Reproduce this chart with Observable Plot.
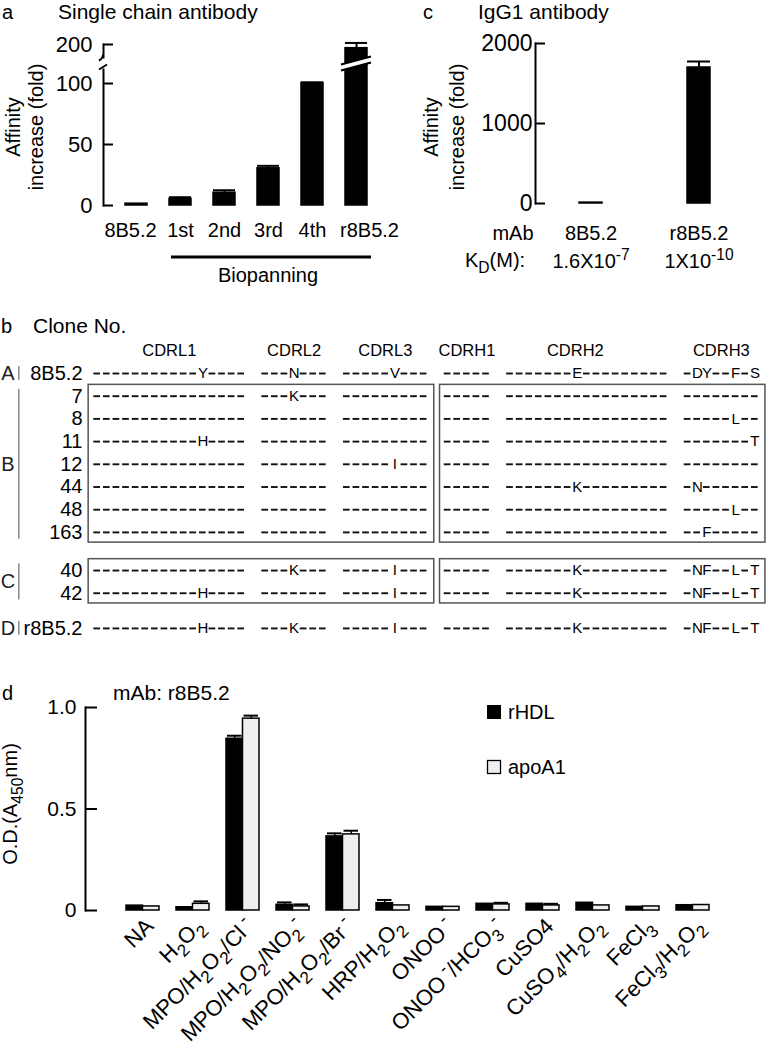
<!DOCTYPE html>
<html><head><meta charset="utf-8">
<script src="https://cdn.jsdelivr.net/npm/d3@7"></script>
<script src="https://cdn.jsdelivr.net/npm/@observablehq/plot@0.6"></script>
<style>
body{margin:0;background:#fff;}
#fig{position:relative;width:767px;height:1050px;overflow:hidden;background:#fff;font-family:"Liberation Sans",Arial,Helvetica,sans-serif;}
#fig > svg{position:absolute;overflow:visible;}
</style></head><body><div id="fig"></div>
<script>
const FONT = '"Liberation Sans", Arial, Helvetica, sans-serif';

// ---------- Panel a: single chain antibody ----------
const scfvClones = ["8B5.2", "1st", "2nd", "3rd", "4th", "r8B5.2"];
const scfvFold = [1, 5, 10, 30, 100, 189];
const scfvErr = [0, 1.8, 2.5, 2.5, 2.8, 15];
const scfvTicks = [0, 50, 100, 200];

// ---------- Panel c: IgG1 antibody ----------
const iggClones = ["8B5.2", "r8B5.2"];
const iggFold = [1, 1690];
const iggErr = [0, 85];
const iggKd = ["1.6X10^{-7}", "1X10^{-10}"];
const iggTicks = [0, 1000, 2000];

// ---------- Panel b: CDR sequences ----------
const rowNames = ["8B5.2", "7", "8", "11", "12", "44", "48", "163", "40", "42", "r8B5.2"];
const rowGroups = ["A", "B", "B", "B", "B", "B", "B", "B", "C", "C", "D"];
const cdrNames = ["CDRL1", "CDRL2", "CDRL3", "CDRH1", "CDRH2", "CDRH3"];
const seqCDRL1 = ["-----------Y----", "----------------", "----------------", "-----------H----", "----------------", "----------------", "----------------", "----------------", "----------------", "-----------H----", "-----------H----"];
const seqCDRL2 = ["---N---", "---K---", "-------", "-------", "-------", "-------", "-------", "-------", "---K---", "-------", "---K---"];
const seqCDRL3 = ["-----V---", "---------", "---------", "---------", "-----I---", "---------", "---------", "---------", "-----I---", "-----I---", "-----I---"];
const seqCDRH1 = ["-----", "-----", "-----", "-----", "-----", "-----", "-----", "-----", "-----", "-----", "-----"];
const seqCDRH2 = ["-------E---------", "-----------------", "-----------------", "-----------------", "-----------------", "-------K---------", "-----------------", "-----------------", "-------K---------", "-------K---------", "-------K---------"];
const seqCDRH3 = ["-DY--F-S", "--------", "-----L--", "-------T", "--------", "-N------", "-----L--", "--F-----", "-NF--L-T", "-NF--L-T", "-NF--L-T"];

// ---------- Panel d: oxidant ELISA ----------
const oxidants = ["NA", "H2O2", "MPO/H2O2/Cl-", "MPO/H2O2/NO2-", "MPO/H2O2/Br-", "HRP/H2O2", "ONOO-", "ONOO-/HCO3-", "CuSO4", "CuSO4/H2O2", "FeCl3", "FeCl3/H2O2"];
const oxidantLabels = ["NA", "H_{2}O_{2}", "MPO/H_{2}O_{2}/Cl^{ -}", "MPO/H_{2}O_{2}/NO_{2}^{-}", "MPO/H_{2}O_{2}/Br^{ -}", "HRP/H_{2}O_{2}", "ONOO^{ -}", "ONOO^{ -}/HCO_{3}^{-}", "CuSO4", "CuSO_{4}/H_{2}O_{2}", "FeCl_{3}", "FeCl_{3}/H_{2}O_{2}"];
const rhdlOD = [0.024, 0.016, 0.846, 0.028, 0.365, 0.036, 0.018, 0.033, 0.033, 0.038, 0.018, 0.026];
const rhdlErr = [0.003, 0.003, 0.015, 0.012, 0.015, 0.016, 0.002, 0.003, 0.003, 0.003, 0.002, 0.002];
const apoOD = [0.020, 0.033, 0.945, 0.020, 0.375, 0.025, 0.018, 0.030, 0.025, 0.025, 0.020, 0.027];
const apoErr = [0.002, 0.012, 0.015, 0.010, 0.018, 0.003, 0.002, 0.008, 0.008, 0.003, 0.002, 0.002];
const odTicks = [0, 0.5, 1.0];

// ---------- helpers ----------
const fig = document.getElementById("fig");
const NS = "http://www.w3.org/2000/svg";
function richify(root) {
  d3.select(root).selectAll("text").each(function () {
    const el = this;
    const s = el.textContent;
    if (!/[_^]\{/.test(s)) return;
    const base = parseFloat(getComputedStyle(el).fontSize) || 20;
    while (el.firstChild) el.removeChild(el.firstChild);
    const parts = s.split(/(_\{[^}]*\}|\^\{[^}]*\})/).filter(p => p.length);
    let shift = 0;
    for (const p of parts) {
      let target = 0, txt = p, small = false;
      if (p[0] === "_" && p[1] === "{") { target = 0.3 * base; txt = p.slice(2, -1); small = true; }
      else if (p[0] === "^" && p[1] === "{") { target = -0.42 * base; txt = p.slice(2, -1); small = true; }
      const t = document.createElementNS(NS, "tspan");
      if (target !== shift) t.setAttribute("dy", target - shift);
      shift = target;
      if (small) t.setAttribute("font-size", 0.78 * base);
      t.textContent = txt;
      el.appendChild(t);
    }
  });
}
function place(svg, left, top) {
  svg.style.left = left + "px";
  svg.style.top = top + "px";
  fig.appendChild(svg);
  richify(svg);
  return svg;
}
const baseStyle = {fontFamily: FONT, background: "transparent", color: "black", overflow: "visible"};

// ---------- Panel a plot ----------
const scfvData = scfvClones.map((c, i) => ({clone: c, fold: scfvFold[i], err: scfvErr[i]}));
const scfvErrData = scfvData.filter(d => d.err > 0);
const nA = scfvClones.length;
const plotA = Plot.plot({
  width: 400, height: 300,
  marginLeft: 103, marginRight: 11, marginTop: 44, marginBottom: 95,
  style: baseStyle,
  x: {domain: scfvClones, paddingInner: 0.5, paddingOuter: 0.43, axis: null},
  y: {type: "linear", domain: [0, 100, 200], range: [205, 83, 44]},
  marks: [
    Plot.barY(scfvData, {x: "clone", y: "fold", fill: "black", stroke: "black", strokeWidth: 1.5, insetTop: -0.6}),
    Plot.ruleX(scfvErrData, {x: "clone", y1: "fold", y2: d => d.fold + d.err, strokeWidth: 2}),
    Plot.tickY(scfvErrData, {x: "clone", y: d => d.fold + d.err, strokeWidth: 2}),
    Plot.frame({anchor: "left", strokeWidth: 2}),
    Plot.axisY({ticks: scfvTicks, tickSize: -10, tickPadding: 21, fontSize: 22, strokeWidth: 2, label: null}),
    // category labels; the two wide end labels sit slightly outward, as in the figure
    Plot.text(scfvClones.slice(0, 1), {x: d => d, text: d => d, frameAnchor: "bottom", lineAnchor: "middle", dy: 25, dx: -6, fontSize: 20}),
    Plot.text(scfvClones.slice(1, nA - 1), {x: d => d, text: d => d, frameAnchor: "bottom", lineAnchor: "middle", dy: 25, fontSize: 20}),
    Plot.text(scfvClones.slice(nA - 1), {x: d => d, text: d => d, frameAnchor: "bottom", lineAnchor: "middle", dy: 25, dx: 13, fontSize: 20})
  ]
});
place(plotA, 0, 0);
{
  const xs = plotA.scale("x"), ys = plotA.scale("y");
  const svg = d3.select(plotA);
  const bx = xs.apply("r8B5.2"), bw = xs.bandwidth;
  const yb = ys.apply(150);
  const g = svg.append("g");
  // bar break
  g.append("path").attr("d", `M${bx - 4},${yb + 7}L${bx + bw + 4},${yb - 1}L${bx + bw + 4},${yb - 7}L${bx - 4},${yb + 1}Z`).attr("fill", "white");
  g.append("path").attr("d", `M${bx - 4},${yb + 7}L${bx + bw + 4},${yb - 1}M${bx - 4},${yb + 1}L${bx + bw + 4},${yb - 7}`).attr("stroke", "black").attr("stroke-width", 2);
  // axis break
  const ax = 103;
  g.append("rect").attr("x", ax - 3).attr("y", yb - 5).attr("width", 6).attr("height", 10).attr("fill", "white");
  g.append("path").attr("d", `M${ax},${yb - 9}Q${ax},${yb - 5} ${ax - 4},${yb - 3}M${ax - 4},${yb + 6}L${ax + 4},${yb + 1}`).attr("stroke", "black").attr("stroke-width", 2).attr("fill", "none");
  // biopanning bracket line
  const x1 = xs.apply("1st") + 2, x2 = xs.apply("r8B5.2") + bw + 4;
  g.append("line").attr("x1", x1).attr("x2", x2).attr("y1", 257).attr("y2", 257).attr("stroke", "black").attr("stroke-width", 3);
}

// ---------- Panel c plot ----------
const iggData = iggClones.map((c, i) => ({clone: c, fold: iggFold[i], err: iggErr[i], kd: iggKd[i]}));
const iggErrData = iggData.filter(d => d.err > 0);
const plotC = Plot.plot({
  width: 367, height: 300,
  marginLeft: 135, marginRight: 14, marginTop: 43, marginBottom: 97,
  style: baseStyle,
  x: {domain: iggClones, paddingInner: 0.79, paddingOuter: 0.4, axis: null},
  y: {domain: [0, 2000]},
  marks: [
    Plot.barY(iggData, {x: "clone", y: "fold", fill: "black", stroke: "black", strokeWidth: 1.5, insetTop: -0.8}),
    Plot.ruleX(iggErrData, {x: "clone", y1: "fold", y2: d => d.fold + d.err, strokeWidth: 2}),
    Plot.tickY(iggErrData, {x: "clone", y: d => d.fold + d.err, strokeWidth: 2}),
    Plot.frame({anchor: "left", strokeWidth: 2}),
    Plot.axisY({ticks: iggTicks, tickFormat: d => String(d), tickSize: -10, tickPadding: 13, fontSize: 23, strokeWidth: 2, label: null}),
    Plot.text(iggData, {x: "clone", text: "clone", frameAnchor: "bottom", lineAnchor: "middle", dy: 30, fontSize: 20}),
    Plot.text(iggData, {x: "clone", text: "kd", frameAnchor: "bottom", lineAnchor: "middle", dy: 58, fontSize: 20})
  ]
});
place(plotC, 400, 0);

// ---------- Panel b plot ----------
const seqs = [seqCDRL1, seqCDRL2, seqCDRL3, seqCDRH1, seqCDRH2, seqCDRH3];
const cdrGap = 1.5;
const cdrHeaderShift = [0, 0, 0, 0, -1.2, 0];
const cdrInfo = [];
{
  let acc = 0;
  cdrNames.forEach((name, j) => {
    const len = seqs[j][0].length;
    cdrInfo.push({name, start: acc, len, shift: cdrHeaderShift[j]});
    acc += len + cdrGap;
  });
}
const groupExtra = {A: 0, B: 0, C: 0.68, D: 0.55};
const rows = [];
{
  let extra = 0, prev = null;
  rowNames.forEach((name, i) => {
    const g = rowGroups[i];
    if (prev !== null && g !== prev) extra += groupExtra[g];
    prev = g;
    rows.push({name, group: g, pos: i + extra});
  });
}
const residues = [];
rows.forEach((r, i) => cdrInfo.forEach((c, j) => {
  const s = seqs[j][i];
  for (let k = 0; k < s.length; k++) residues.push({pos: r.pos, col: c.start + k, ch: s[k]});
}));
const dashes = residues.filter(d => d.ch === "-");
const letters = residues.filter(d => d.ch !== "-");
const groupInfo = [...new Set(rowGroups)].map(g => {
  const rs = rows.filter(r => r.group === g);
  return {group: g, first: rs[0].pos, last: rs[rs.length - 1].pos, n: rs.length};
});
const lightX1 = cdrInfo[0].start - 0.4, lightX2 = cdrInfo[2].start + cdrInfo[2].len + 0.6;
const heavyX1 = cdrInfo[3].start - 0.3, heavyX2 = cdrInfo[5].start + cdrInfo[5].len + 0.6;
const boxes = groupInfo.filter(g => g.n > 1).flatMap(g => [
  {x1: lightX1, x2: lightX2, y1: g.first - 0.5, y2: g.last + 0.45},
  {x1: heavyX1, x2: heavyX2, y1: g.first - 0.5, y2: g.last + 0.45}
]);
const plotB = Plot.plot({
  width: 767, height: 350,
  margin: 0,
  style: baseStyle,
  x: {type: "linear", domain: [0, 70], range: [92, 764], axis: null},
  y: {type: "linear", domain: [0, 11.2], range: [73, 73 + 11.2 * 22.7], axis: null},
  marks: [
    Plot.rect(boxes, {x1: "x1", x2: "x2", y1: "y1", y2: "y2", fill: "none", stroke: "#555", strokeWidth: 1.5}),
    Plot.ruleY(dashes, {y: "pos", x1: d => d.col + 0.14, x2: d => d.col + 0.84, stroke: "#111", strokeWidth: 1.9}),
    Plot.text(letters, {x: d => d.col + 0.5, y: "pos", text: "ch", fontSize: 15}),
    Plot.text(cdrInfo, {x: d => d.start + d.len / 2 + d.shift, y: () => -1.02, text: "name", fontSize: 16.5}),
    Plot.text(rows, {x: () => 0, y: "pos", text: "name", textAnchor: "end", dx: -10, fontSize: 20}),
    Plot.text(groupInfo, {x: () => 0, y: d => (d.first + d.last) / 2, text: "group", dx: -84.5, fontSize: 20, fill: "#222"}),
    Plot.ruleX(groupInfo, {x: () => 0, dx: -73.7, y1: d => d.first - 0.3, y2: d => d.last + 0.3, stroke: "#888", strokeWidth: 1.5})
  ]
});
place(plotB, 0, 300);

// ---------- Panel d plot ----------
const odData = oxidants.map((o, i) => ({ox: o, label: oxidantLabels[i], rhdl: rhdlOD[i], rhdlErr: rhdlErr[i], apo: apoOD[i], apoErr: apoErr[i]}));
const dW = 767, dML = 85, dMR = 18, dPI = 0.35, dPO = 0.72;
const dStep = (dW - dML - dMR) / (oxidants.length - dPI + 2 * dPO);
const dBW = dStep * (1 - dPI);
const half = dBW / 2;
const plotD = Plot.plot({
  width: dW, height: 370,
  marginLeft: dML, marginRight: dMR, marginTop: 27, marginBottom: 140,
  style: baseStyle,
  x: {domain: oxidants, paddingInner: dPI, paddingOuter: dPO, axis: null},
  y: {domain: [0, 1], range: [230, 27]},
  marks: [
    Plot.barY(odData, {x: "ox", y: "rhdl", fill: "black", stroke: "black", strokeWidth: 1.5, insetRight: half}),
    Plot.barY(odData, {x: "ox", y: "apo", fill: "#efefef", stroke: "black", strokeWidth: 1.5, insetLeft: half}),
    Plot.ruleX(odData.filter(d => d.rhdlErr > 0.005), {x: "ox", y1: "rhdl", y2: d => d.rhdl + d.rhdlErr, dx: -half / 2, strokeWidth: 1.5}),
    Plot.tickY(odData.filter(d => d.rhdlErr > 0.005), {x: "ox", y: d => d.rhdl + d.rhdlErr, insetLeft: 1, insetRight: half + 1, strokeWidth: 2}),
    Plot.ruleX(odData.filter(d => d.apoErr > 0.005), {x: "ox", y1: "apo", y2: d => d.apo + d.apoErr, dx: half / 2, strokeWidth: 1.5}),
    Plot.tickY(odData.filter(d => d.apoErr > 0.005), {x: "ox", y: d => d.apo + d.apoErr, insetLeft: half + 1, insetRight: 1, strokeWidth: 2}),
    Plot.frame({anchor: "left", strokeWidth: 2}),
    Plot.axisY({ticks: odTicks, tickFormat: d => d === 0 ? "0" : d.toFixed(1), tickSize: -12, tickPadding: 21, fontSize: 21, strokeWidth: 2, label: null}),
    Plot.text(odData, {x: "ox", text: "label", frameAnchor: "bottom", lineAnchor: "middle", rotate: -45, textAnchor: "end", dx: 7, dy: 12, fontSize: 22})
  ]
});
place(plotD, 0, 680);

// ---------- Overlay: panel letters, titles, free labels, legend ----------
const ov = d3.create("svg").attr("width", 767).attr("height", 1050)
  .style("font-family", FONT).style("pointer-events", "none");
function txt(x, y, s, size, opts = {}) {
  const t = ov.append("text").attr("x", x).attr("y", y).attr("font-size", size)
    .attr("text-anchor", opts.anchor || "start").attr("fill", opts.fill || "black").text(s);
  if (opts.rotate) t.attr("transform", `rotate(${opts.rotate},${x},${y})`).attr("dy", "0.35em");
  return t;
}
// panel a
txt(2, 19, "a", 20);
txt(58, 19, "Single chain antibody", 21);
txt(13, 127, "Affinity", 20, {anchor: "middle", rotate: -90});
txt(36, 127, "increase (fold)", 20, {anchor: "middle", rotate: -90});
txt(268, 282, "Biopanning", 20, {anchor: "middle"});
// panel c
txt(423, 19, "c", 20);
txt(478, 19, "IgG1 antibody", 21);
txt(431, 127, "Affinity", 20, {anchor: "middle", rotate: -90});
txt(457, 127, "increase (fold)", 20, {anchor: "middle", rotate: -90});
txt(513, 240, "mAb", 20, {anchor: "middle"});
txt(465, 267, "K_{D}(M):", 20);
// panel b
txt(1, 333, "b", 20);
txt(33, 333, "Clone No.", 21);
// panel d
txt(2, 700, "d", 20);
txt(113, 700, "mAb: r8B5.2", 21);
txt(10, 804, "O.D.(A_{450}nm)", 20, {anchor: "middle", rotate: -90});
ov.append("rect").attr("x", 487).attr("y", 705).attr("width", 14).attr("height", 14).attr("fill", "black");
txt(508, 719, "rHDL", 20);
ov.append("rect").attr("x", 487.5).attr("y", 760.5).attr("width", 13).attr("height", 13).attr("fill", "#efefef").attr("stroke", "black").attr("stroke-width", 1.3);
txt(508, 774, "apoA1", 20);
place(ov.node(), 0, 0);
</script></body></html>
